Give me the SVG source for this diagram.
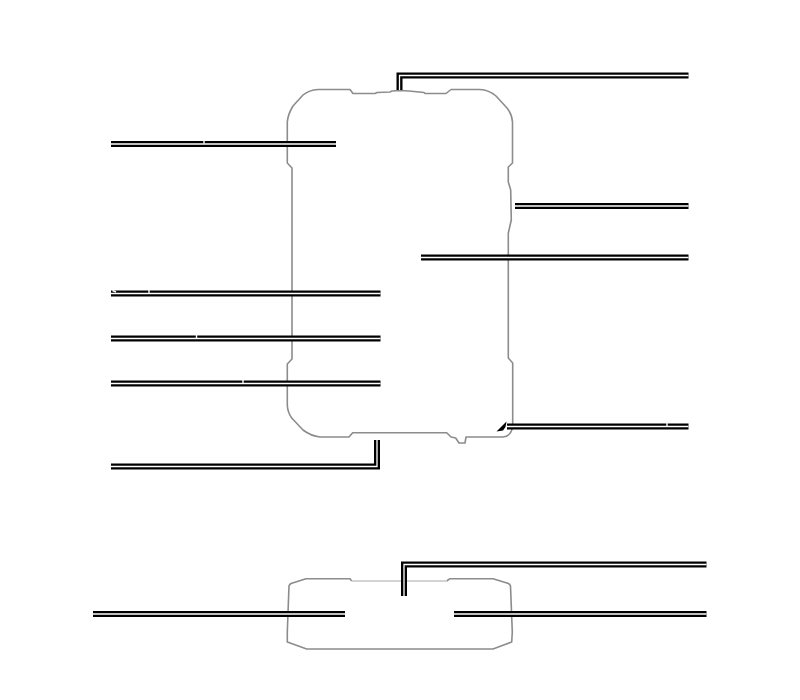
<svg xmlns="http://www.w3.org/2000/svg" width="800" height="700" viewBox="0 0 800 700">
<style>
.o{fill:none;stroke:#8c8c8c;stroke-width:1.6;stroke-linejoin:round}
.l{fill:none;stroke:#c4c4c4;stroke-width:1.6}
.b{fill:none;stroke:#000;stroke-width:6;stroke-linejoin:miter}
.w{fill:none;stroke:#fff;stroke-width:1.3;stroke-linejoin:miter}
.g{stroke:#fff;stroke-width:1.4}
</style>
<rect width="800" height="700" fill="#fff"/>
<g id="device-front">
<path class="o" d="M350 89.500L353 93.500H375L377 92.500L390 92L392 91L400 90.500L409 91L424 92.500L425 93.500H446L451 89.500H480Q489 90 496 96L507 108Q512 114 512.500 122V163L508.300 167V182L510.700 190L511.300 220L509 230L508.300 233V358L512.700 363V425Q512 436 503 437H466L465 443H459L455.700 438L451 437L446.700 432.700H352.700L349 437H320Q311 436 303 430L291.700 418Q287.500 412 287.300 405V364L292 359V168L287.300 163V122Q288 114 293 106L303 95Q309 90 318 89.500Z"/>
</g>
<g id="device-side">
<path class="o" d="M351.700 581L350 578.700H306L291 583.500Q289.500 584.500 289 586L287.300 632V642L306.700 649H493L511.700 642L512.300 632L510.500 586Q510 584.500 508.500 583.500L493 578.700H450L446.700 581"/>
<path class="l" d="M351.700 581H446.700"/>
</g>
<g id="connectors">
<path class="b" d="M111 144H336"/><path class="w" d="M111 144H336"/>
<path class="b" d="M111 293.500H380.500"/><path class="w" d="M111 293.500H380.500"/>
<path class="b" d="M111 338.500H380.500"/><path class="w" d="M111 338.500H380.500"/>
<path class="b" d="M111 383.500H380.500"/><path class="w" d="M111 383.500H380.500"/>
<path class="b" d="M377 440V466.500H111"/><path class="w" d="M377 440V466.500H111"/>
<path class="b" d="M399.500 90V75.500H688.500"/><path class="w" d="M399.500 90V75.500H688.500"/>
<path class="b" d="M515 206H688.500"/><path class="w" d="M515 206H688.500"/>
<path class="b" d="M421 257.500H688.500"/><path class="w" d="M421 257.500H688.500"/>
<path class="b" d="M507 426.500H688.500"/><path class="w" d="M507 426.500H688.500"/>
<path d="M496.500 431.500L506.500 421.500L505.500 427L503 430.500Z" fill="#000"/>
<path class="b" d="M404 596V564.500H706.500"/><path class="w" d="M404 596V564.500H706.500"/>
<path class="b" d="M93 614H345"/><path class="w" d="M93 614H345"/>
<path class="b" d="M454 614H706.500"/><path class="w" d="M454 614H706.500"/>
<path class="g" d="M204 140.500V143.500M149 290V293M196.500 335V338M243 380V383M667 423V426M112.500 290.500L116 292"/>
</g>
</svg>
